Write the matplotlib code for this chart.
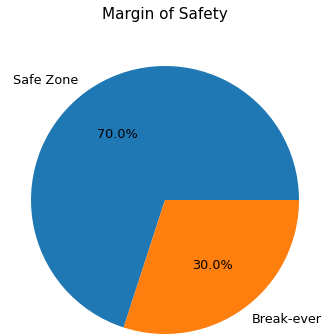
import matplotlib
matplotlib.use("Agg")
import matplotlib.pyplot as plt

labels = ["Safe Zone", "Break-even"]
values = [70, 30]
colors = ["#1f77b4", "#ff7f0e"]
title = "Margin of Safety"

W, H = 321, 336
fig = plt.figure(figsize=(W / 100, H / 100), dpi=100)
cx, cy, r = 165, 136, 134  # pixels from bottom-left
half = 1.25 * r
ax = fig.add_axes([(cx - half) / W, (cy - half) / H, 2 * half / W, 2 * half / H])
ax.pie(values, labels=labels, colors=colors, autopct="%1.1f%%",
       textprops={"fontsize": 9.2})
ax.set_xlim(-1.25, 1.25)
ax.set_ylim(-1.25, 1.25)
fig.suptitle(title, x=cx / W, y=1 - 15 / H, va="center", fontsize=11)
fig.savefig("out.png", dpi=100)
